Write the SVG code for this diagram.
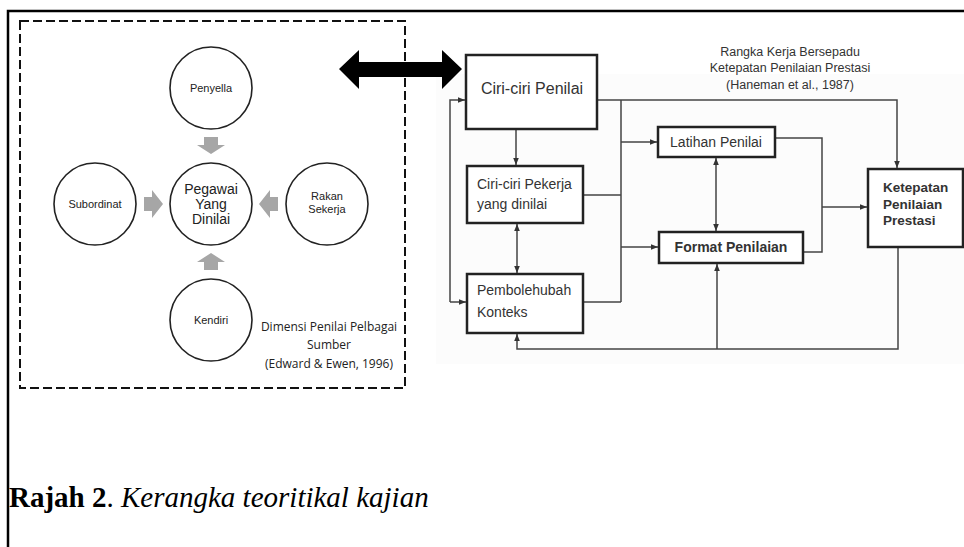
<svg xmlns="http://www.w3.org/2000/svg" width="964" height="547" viewBox="0 0 964 547">
<style>
.frame{stroke:#000;stroke-width:2.5;fill:none}
.circ{fill:#fff;stroke:#222;stroke-width:1.6}
.ct{font-family:"Liberation Sans",Arial,sans-serif;font-size:11px;fill:#222;text-anchor:middle}
.ctc{font-family:"Liberation Sans",Arial,sans-serif;font-size:14px;fill:#222;text-anchor:middle}
.os{font-family:"Open Sans",sans-serif;font-size:12px;fill:#222;text-anchor:middle}
.garr{fill:#a6a6a6}
.box{fill:#fff;stroke:#222;stroke-width:2.5}
.bt{font-family:"Liberation Sans",Arial,sans-serif;fill:#333}
.conn{stroke:#444;stroke-width:1.5;fill:none}
.ttl{font-family:"Liberation Sans",Arial,sans-serif;font-size:12.5px;fill:#333;text-anchor:middle}
</style>
<defs>
<marker id="ah" viewBox="0 0 10 10" refX="10" refY="5" markerWidth="7" markerHeight="7" markerUnits="userSpaceOnUse" orient="auto-start-reverse">
<path d="M0,1 L10,5 L0,9 z" fill="#333"/>
</marker>
</defs>
<rect width="964" height="547" fill="#fff"/>
<rect x="436" y="74" width="528" height="290" fill="#fcfcfc"/>
<path class="frame" d="M8,547 V11 H964"/>
<rect x="20" y="21" width="385" height="367" fill="none" stroke="#111" stroke-width="2" stroke-dasharray="9,4"/>

<g id="penyella"><circle class="circ" cx="211" cy="88" r="41"/><text class="ct" x="211" y="92">Penyella</text></g>
<g id="pegawai"><circle class="circ" cx="211" cy="204" r="41"/><text class="ctc" x="211" y="194">Pegawai</text><text class="ctc" x="211" y="209">Yang</text><text class="ctc" x="211" y="224">Dinilai</text></g>
<g id="subordinat"><circle class="circ" cx="95" cy="204" r="41"/><text class="ct" x="95" y="208">Subordinat</text></g>
<g id="rakan"><circle class="circ" cx="327" cy="204" r="41"/><text class="ct" x="327" y="200">Rakan</text><text class="ct" x="327" y="213">Sekerja</text></g>
<g id="kendiri"><circle class="circ" cx="211" cy="320" r="41"/><text class="ct" x="211" y="324">Kendiri</text></g>
<g id="dimensi-label"><text class="os" x="329" y="331">Dimensi Penilai Pelbagai</text><text class="os" x="329" y="349">Sumber</text><text class="os" x="329" y="368">(Edward &amp; Ewen, 1996)</text></g>

<g id="gray-arrows">
<path class="garr" d="M204,137 H218 V145 H225 L211,154 L197,145 H204 Z"/>
<path class="garr" d="M204,270 H218 V262 H225 L211,253 L197,262 H204 Z"/>
<path class="garr" d="M144,197 V211 H152 V218 L163,204 L152,190 V197 Z"/>
<path class="garr" d="M278,197 V211 H270 V218 L259,204 L270,190 V197 Z"/>
</g>

<g id="big-arrow"><path d="M339,69 L359,50 V62 H442 V50 L462,69 L442,89 V77 H359 V89 Z" fill="#000"/></g>

<g id="title"><text class="ttl" x="790" y="56">Rangka Kerja Bersepadu</text><text class="ttl" x="790" y="72">Ketepatan Penilaian Prestasi</text><text class="ttl" x="790" y="89">(Haneman et al., 1987)</text></g>

<g id="connectors">
<path class="conn" d="M597,100 H897 V168" marker-end="url(#ah)"/>
<path class="conn" d="M621,100 V302"/>
<path class="conn" d="M621,142 H657" marker-end="url(#ah)"/>
<path class="conn" d="M621,247 H658" marker-end="url(#ah)"/>
<path class="conn" d="M583,195 H621"/>
<path class="conn" d="M583,302 H621"/>
<path class="conn" d="M516,129 V165" marker-end="url(#ah)"/>
<path class="conn" d="M517,224 V273" marker-start="url(#ah)" marker-end="url(#ah)"/>
<path class="conn" d="M716,158 V231" marker-start="url(#ah)" marker-end="url(#ah)"/>
<path class="conn" d="M450,302 V100 H465" marker-end="url(#ah)"/>
<path class="conn" d="M450,302 H466" marker-end="url(#ah)"/>
<path class="conn" d="M775,138 H822 V252 H803"/>
<path class="conn" d="M822,207 H867" marker-end="url(#ah)"/>
<path class="conn" d="M898,248 V349 H517 V334" marker-end="url(#ah)"/>
<path class="conn" d="M717,349 V264" marker-end="url(#ah)"/>
</g>

<g id="ciri-penilai"><rect class="box" x="466" y="55" width="131" height="74"/><text class="bt" x="532" y="94" font-size="16" text-anchor="middle" fill="#222">Ciri-ciri Penilai</text></g>
<g id="ciri-pekerja"><rect class="box" x="467" y="166" width="116" height="57"/><text class="bt" x="477" y="189" font-size="14">Ciri-ciri Pekerja</text><text class="bt" x="477" y="209" font-size="14">yang dinilai</text></g>
<g id="pembolehubah"><rect class="box" x="467" y="274" width="116" height="59"/><text class="bt" x="477" y="295" font-size="14">Pembolehubah</text><text class="bt" x="477" y="317" font-size="14">Konteks</text></g>
<g id="latihan"><rect class="box" x="658" y="127" width="117" height="30"/><text class="bt" x="716" y="147" font-size="14" text-anchor="middle">Latihan Penilai</text></g>
<g id="format"><rect class="box" x="659" y="232" width="144" height="31"/><text class="bt" x="731" y="252" font-size="14" font-weight="bold" text-anchor="middle" fill="#222">Format Penilaian</text></g>
<g id="ketepatan"><rect class="box" x="868" y="169" width="95" height="78"/><text class="bt" x="883" y="192" font-size="13.5" font-weight="bold" fill="#222">Ketepatan</text><text class="bt" x="883" y="209" font-size="13.5" font-weight="bold" fill="#222">Penilaian</text><text class="bt" x="883" y="225" font-size="13.5" font-weight="bold" fill="#222">Prestasi</text></g>

<g id="caption"><text x="9" y="507" font-family="'Liberation Serif','Times New Roman',serif" font-size="29" fill="#000"><tspan font-weight="bold">Rajah 2</tspan>. <tspan font-style="italic">Kerangka teoritikal kajian</tspan></text></g>
</svg>
